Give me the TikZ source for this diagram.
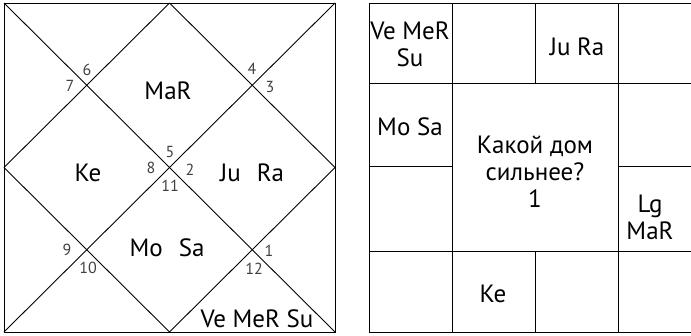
\documentclass[tikz,border=0pt]{standalone}
\usepackage{fontspec}
\setmainfont{PT Sans}

\begin{document}
\begin{tikzpicture}
  [x=1pt,y=-1pt,line width=0.9pt,
   every node/.style={font=\fontsize{25}{27}\selectfont,align=center,inner sep=0pt},
   num/.style={font=\fontsize{16}{18}\selectfont,text=black!75}]
  \useasboundingbox (0,0) rectangle (691,335);

  % north indian chart
  \coordinate (tl) at (4,3);
  \coordinate (tr) at (335,3);
  \coordinate (bl) at (4,332);
  \coordinate (br) at (335,332);
  \coordinate (tm) at (169.5,3);
  \coordinate (lm) at (4,167.5);
  \coordinate (rm) at (335,167.5);
  \coordinate (bm) at (169.5,332);
  \draw (tl) rectangle (br);
  \foreach \from/\to in {tl/br,tr/bl,tm/rm,rm/bm,bm/lm,lm/tm}
    \draw (\from) -- (\to);

  \node (mar) at (168,91)  {MaR};
  \node (ke)  at (88,173)  {Ke};
  \node (jura) at (252,173) {Ju\hspace{16pt}Ra};
  \node (mosa) at (167,248) {Mo\hspace{16pt}Sa};
  \node (vemersu) at (257,319) {Ve MeR Su};

  \node[num] (h6)  at (87,70)   {6};
  \node[num] (h7)  at (70,86)   {7};
  \node[num] (h4)  at (252,69)  {4};
  \node[num] (h3)  at (270,87)  {3};
  \node[num] (h5)  at (170,152) {5};
  \node[num] (h8)  at (151,168) {8};
  \node[num] (h2)  at (190,170) {2};
  \node[num] (h11) at (170,186) {11};
  \node[num] (h9)  at (67,250)  {9};
  \node[num] (h10) at (88,268)  {10};
  \node[num] (h1)  at (269,251) {1};
  \node[num] (h12) at (254,269) {12};

  % south indian chart
  \draw (369,3) -- (691,3);
  \draw (369,332) -- (691,332);
  \draw (369,83) -- (691,83);
  \draw (369,251) -- (691,251);
  \draw (369,166) -- (452,166);
  \draw (618,166) -- (691,166);
  \foreach \x in {369,452,618}
    \draw (\x,3) -- (\x,332);
  \draw (535,3) -- (535,83);
  \draw (535,251) -- (535,332);

  \node (c1) at (410,44)  {Ve MeR\\Su};
  \node (c3) at (577,47)  {Ju Ra};
  \node (c5) at (410,127) {Mo Sa};
  \node (q)  at (535,172) {Какой дом\\сильнее?\\1};
  \node (c8) at (650,217) {Lg\\MaR};
  \node (c10) at (493,294) {Ke};
\end{tikzpicture}
\end{document}
